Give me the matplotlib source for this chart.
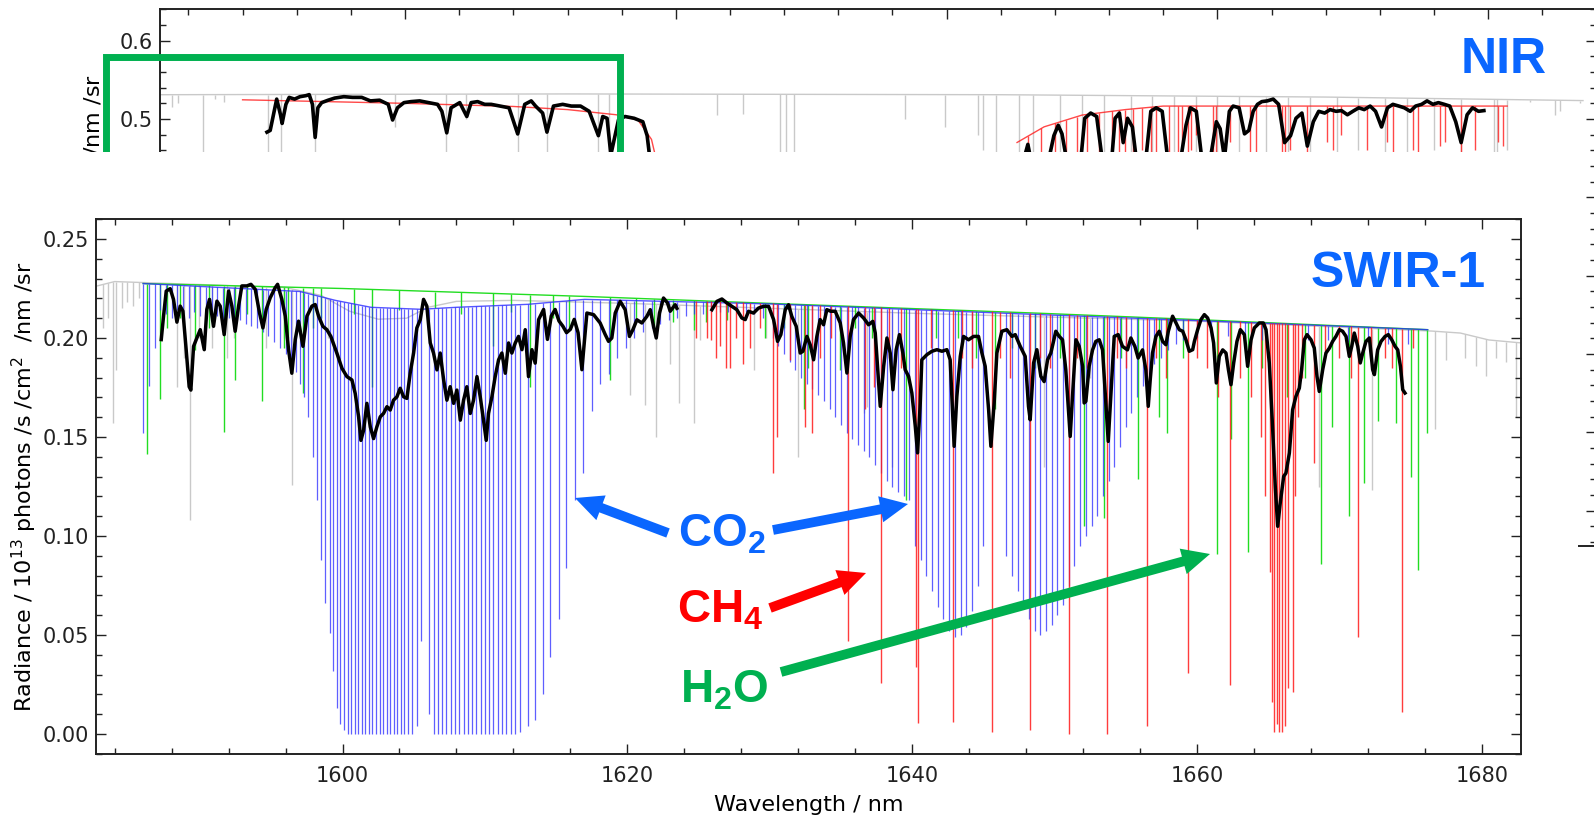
import numpy as np
import matplotlib
matplotlib.use("Agg")
import matplotlib.pyplot as plt
from matplotlib.patches import Rectangle, FancyArrowPatch, ArrowStyle
from matplotlib.lines import Line2D
from matplotlib.ticker import MultipleLocator, FormatStrFormatter

plt.rcParams['font.family'] = ['DejaVu Sans']
plt.rcParams['mathtext.fontset'] = 'custom'
plt.rcParams['mathtext.rm'] = 'DejaVu Sans'
plt.rcParams['mathtext.it'] = 'DejaVu Sans:italic'
plt.rcParams['mathtext.bf'] = 'Liberation Sans:bold'

W, H = 1594, 818

# ---------------- SWIR-1 panel data (wavelength nm, radiance) ----------------
# continuum levels the absorption lines hang from
CONT_X = [1586.0, 1600.0, 1617.0, 1630.0, 1649.0, 1660.0, 1676.2]
CONT_Y = [0.2275, 0.2250, 0.2210, 0.2175, 0.2125, 0.2093, 0.2042]
CO2_CONT_X = [1586.0, 1597.0, 1599.5, 1602.0, 1605.5, 1608.0, 1613.0, 1617.0, 1630.0, 1649.0, 1660.0, 1676.2]
CO2_CONT_Y = [0.2275, 0.2235, 0.2190, 0.2155, 0.2145, 0.2155, 0.2170, 0.2195, 0.2172, 0.2118, 0.2088, 0.2042]
GRAY_CONT_X = [1582.6, 1584.0, 1586.0, 1596.0, 1598.5, 1600.5, 1602.5, 1604.5, 1606.0, 1608.0,
               1612.0, 1620.0, 1640.0, 1660.0, 1676.5, 1678.5, 1680.5, 1682.8]
GRAY_CONT_Y = [0.2260, 0.2285, 0.2280, 0.2255, 0.2215, 0.2135, 0.2095, 0.2100, 0.2155, 0.2185,
               0.2190, 0.2175, 0.2125, 0.2085, 0.2035, 0.2025, 0.1990, 0.1975]

# CO2 lines: (centre, minimum)
CO2_LINES = [
    (1586.0, 0.152), (1586.4, 0.176), (1586.8, 0.195), (1587.2, 0.214), (1587.6, 0.212), (1588.0, 0.210),
    (1588.4, 0.214), (1588.8, 0.212), (1589.2, 0.210), (1589.6, 0.213), (1590.0, 0.211), (1590.4, 0.212),
    (1590.8, 0.210), (1591.2, 0.211), (1591.6, 0.209), (1592.0, 0.210), (1592.4, 0.208), (1592.8, 0.209),
    (1593.2, 0.207), (1593.6, 0.206), (1594.0, 0.205), (1594.4, 0.203), (1594.8, 0.201), (1595.2, 0.198),
    (1595.6, 0.195), (1596.0, 0.192), (1596.35, 0.188), (1596.7, 0.183), (1597.0, 0.177), (1597.3, 0.170),
    (1597.6, 0.160), (1597.9, 0.140), (1598.2, 0.118), (1598.5, 0.088), (1598.8, 0.066), (1599.1, 0.051),
    (1599.35, 0.032), (1599.6, 0.013), (1599.85, 0.005), (1600.1, 0.002), (1600.35, 0.0), (1600.6, 0.0),
    (1600.85, 0.0), (1601.1, 0.0), (1601.35, 0.0), (1601.6, 0.0), (1601.85, 0.0), (1602.1, 0.0),
    (1602.35, 0.0), (1602.6, 0.0), (1602.85, 0.0), (1603.1, 0.0), (1603.35, 0.0), (1603.6, 0.0),
    (1603.85, 0.0), (1604.1, 0.0), (1604.35, 0.0), (1604.6, 0.0), (1604.9, 0.0), (1605.2, 0.004),
    (1605.5, 0.047), (1606.1, 0.010), (1606.4, 0.0), (1606.7, 0.0), (1607.0, 0.0), (1607.3, 0.0),
    (1607.6, 0.0), (1607.9, 0.0), (1608.2, 0.0), (1608.5, 0.0), (1608.8, 0.0), (1609.1, 0.0),
    (1609.4, 0.0), (1609.7, 0.0), (1610.0, 0.0), (1610.3, 0.0), (1610.6, 0.0), (1610.9, 0.0),
    (1611.2, 0.0), (1611.5, 0.0), (1611.8, 0.0), (1612.1, 0.0), (1612.45, 0.001), (1613.0, 0.004),
    (1613.55, 0.007), (1614.1, 0.020), (1614.6, 0.039), (1615.2, 0.058), (1615.7, 0.084), (1616.3, 0.118),
    (1616.9, 0.132), (1617.5, 0.163), (1618.1, 0.177), (1618.7, 0.182), (1619.3, 0.190), (1619.9, 0.195),
    (1620.5, 0.200), (1621.1, 0.203), (1621.7, 0.205), (1622.3, 0.207), (1622.9, 0.209), (1623.5, 0.210),
    (1624.1, 0.211), (1624.7, 0.212), (1625.3, 0.212), (1625.9, 0.213), (1626.5, 0.213), (1627.1, 0.213),
    (1627.7, 0.213), (1628.3, 0.213), (1628.9, 0.212), (1629.5, 0.210),
    (1630.2, 0.200), (1630.6, 0.196), (1631.0, 0.192), (1631.4, 0.188), (1631.8, 0.184), (1632.2, 0.180),
    (1632.6, 0.177), (1633.0, 0.174), (1633.4, 0.171), (1633.8, 0.168), (1634.2, 0.164), (1634.6, 0.160),
    (1635.0, 0.156), (1635.4, 0.152), (1635.8, 0.149), (1636.2, 0.146), (1636.6, 0.143), (1637.0, 0.140),
    (1637.4, 0.136), (1637.8, 0.132), (1638.2, 0.128), (1638.6, 0.125), (1639.0, 0.122), (1639.4, 0.120),
    (1639.8, 0.118), (1640.2, 0.095), (1640.6, 0.088), (1641.0, 0.080), (1641.4, 0.072), (1641.8, 0.064),
    (1642.2, 0.058), (1642.6, 0.052), (1643.0, 0.049), (1643.4, 0.050), (1643.8, 0.054), (1644.2, 0.062),
    (1644.6, 0.075), (1645.0, 0.095), (1646.6, 0.090), (1647.0, 0.080), (1647.4, 0.072), (1647.8, 0.065),
    (1648.2, 0.058), (1648.6, 0.052), (1649.0, 0.050), (1649.4, 0.052), (1649.8, 0.055), (1650.2, 0.060),
    (1650.6, 0.065), (1651.0, 0.075), (1651.4, 0.085), (1651.8, 0.095), (1652.2, 0.100), (1652.6, 0.105),
    (1653.0, 0.110), (1653.4, 0.120), (1653.8, 0.128), (1654.2, 0.135), (1654.6, 0.145), (1655.0, 0.155),
    (1655.4, 0.162), (1655.8, 0.170), (1656.2, 0.176), (1656.6, 0.182), (1657.0, 0.187), (1657.5, 0.190),
    (1658.0, 0.194), (1658.5, 0.197), (1659.0, 0.199), (1660.0, 0.200), (1661.0, 0.201), (1662.2, 0.201),
    (1663.4, 0.200), (1664.6, 0.199), (1667.8, 0.199), (1669.2, 0.199), (1670.6, 0.198), (1672.0, 0.198),
    (1673.4, 0.197), (1674.8, 0.197),
]

CH4_LINES = [
    (1624.8, 0.200), (1625.6, 0.200), (1625.9, 0.199), (1626.2, 0.190), (1626.5, 0.196), (1626.9, 0.185),
    (1627.2, 0.185), (1627.6, 0.200), (1628.1, 0.187), (1628.6, 0.195), (1629.3, 0.205), (1630.2, 0.132),
    (1630.5, 0.150), (1631.4, 0.189), (1632.5, 0.155), (1633.0, 0.152), (1633.55, 0.190), (1634.3, 0.200),
    (1635.5, 0.047), (1636.7, 0.164), (1637.3, 0.175), (1637.8, 0.026), (1638.4, 0.190), (1639.2, 0.185),
    (1640.3, 0.034), (1640.4, 0.0055), (1641.3, 0.195), (1642.9, 0.006), (1643.5, 0.190), (1644.2, 0.185),
    (1645.6, 0.001), (1646.2, 0.190), (1646.9, 0.180), (1648.3, 0.002), (1649.0, 0.190), (1649.7, 0.185),
    (1651.0, 0.0), (1651.6, 0.190), (1652.3, 0.185), (1653.7, 0.0), (1654.4, 0.190), (1655.0, 0.185),
    (1656.5, 0.004), (1657.1, 0.190), (1657.8, 0.180), (1659.4, 0.031), (1660.0, 0.190), (1660.7, 0.185),
    (1661.5, 0.170), (1662.3, 0.025), (1663.0, 0.180), (1663.8, 0.170), (1664.5, 0.150), (1664.8, 0.120),
    (1665.1, 0.082), (1665.28, 0.016), (1665.43, 0.001), (1665.6, 0.005), (1665.78, 0.001), (1665.96, 0.001),
    (1666.17, 0.004), (1666.42, 0.023), (1666.77, 0.021), (1666.9, 0.120), (1667.1, 0.160), (1667.4, 0.180),
    (1668.2, 0.137), (1669.0, 0.190), (1670.0, 0.190), (1670.8, 0.180), (1671.3, 0.049), (1672.2, 0.190),
    (1673.2, 0.190), (1673.7, 0.185), (1674.4, 0.011), (1675.2, 0.195),
]

H2O_LINES = [
    (1586.26, 0.1415), (1587.2, 0.169), (1587.7, 0.205), (1588.6, 0.210), (1589.66, 0.194), (1590.6, 0.205),
    (1591.65, 0.1525), (1592.47, 0.1788), (1593.3, 0.212), (1594.34, 0.168), (1595.9, 0.195), (1596.2, 0.200),
    (1597.2, 0.172), (1597.9, 0.205), (1598.5, 0.210), (1600.8, 0.212), (1602.1, 0.175), (1604.0, 0.214),
    (1606.5, 0.215), (1608.3, 0.212), (1610.6, 0.196), (1611.8, 0.213), (1613.2, 0.175), (1614.8, 0.210),
    (1615.9, 0.205), (1618.8, 0.179), (1620.6, 0.210), (1621.9, 0.205), (1623.2, 0.208), (1624.65, 0.204),
    (1625.5, 0.208), (1627.0, 0.209), (1629.7, 0.200), (1631.0, 0.205), (1632.4, 0.164), (1632.7, 0.185),
    (1634.95, 0.184), (1636.0, 0.205), (1637.2, 0.200), (1639.55, 0.118), (1641.7, 0.200), (1643.2, 0.200),
    (1644.5, 0.190), (1645.8, 0.164), (1647.0, 0.195), (1648.6, 0.185), (1650.4, 0.190), (1652.06, 0.105),
    (1653.5, 0.109), (1654.7, 0.190), (1655.87, 0.129), (1657.35, 0.160), (1657.9, 0.152), (1659.0, 0.190),
    (1661.4, 0.091), (1662.4, 0.149), (1663.56, 0.092), (1664.6, 0.185), (1666.3, 0.170), (1667.6, 0.180),
    (1668.7, 0.086), (1669.5, 0.155), (1670.7, 0.110), (1671.75, 0.127), (1672.7, 0.158), (1673.98, 0.157),
    (1675.0, 0.130), (1675.55, 0.083), (1676.15, 0.152),
]

TOTAL_LINES = [
    (1583.2, 0.205), (1583.5, 0.210), (1583.9, 0.157), (1584.1, 0.184), (1584.5, 0.215), (1584.9, 0.218),
    (1585.3, 0.216), (1585.7, 0.220), (1588.4, 0.175), (1588.9, 0.190), (1589.3, 0.108), (1589.9, 0.200),
    (1590.8, 0.195), (1591.9, 0.190), (1592.4, 0.200), (1594.6, 0.195), (1595.9, 0.200), (1596.45, 0.126),
    (1599.0, 0.200), (1620.2, 0.171), (1621.25, 0.166), (1622.0, 0.150), (1623.0, 0.187), (1623.64, 0.167),
    (1624.65, 0.157), (1625.1, 0.199), (1628.86, 0.184), (1629.75, 0.200), (1632.0, 0.140), (1636.6, 0.162),
    (1636.8, 0.165), (1638.6, 0.135), (1649.27, 0.135), (1652.5, 0.180), (1668.6, 0.125), (1672.3, 0.123),
    (1676.7, 0.154), (1677.5, 0.189), (1678.8, 0.190), (1679.6, 0.186), (1680.3, 0.181), (1681.0, 0.190),
    (1681.7, 0.188), (1682.4, 0.160),
]

# convolved (instrument) radiance, black; two pieces
CONV_A = [
    (1587.27, 0.1992), (1587.43, 0.211), (1587.62, 0.2237), (1587.90, 0.2249), (1588.13, 0.2195), (1588.37, 0.208),
    (1588.60, 0.2161), (1588.79, 0.2136), (1589.02, 0.1941), (1589.23, 0.1754), (1589.35, 0.1737), (1589.54, 0.1958),
    (1589.77, 0.2000), (1590.01, 0.2042), (1590.29, 0.1941), (1590.47, 0.2144), (1590.66, 0.2195), (1590.94, 0.2059),
    (1591.18, 0.2186), (1591.41, 0.2161), (1591.69, 0.2017), (1592.00, 0.2237), (1592.23, 0.2161), (1592.46, 0.2034),
    (1592.70, 0.2161), (1592.93, 0.2263), (1593.28, 0.2263), (1593.57, 0.2271), (1593.87, 0.2246), (1594.17, 0.2127),
    (1594.41, 0.2051), (1594.64, 0.2144), (1594.92, 0.2203), (1595.27, 0.2254), (1595.44, 0.2271), (1595.74, 0.2195),
    (1595.98, 0.2110), (1596.21, 0.1941), (1596.44, 0.1822), (1596.68, 0.1992), (1596.91, 0.2085), (1597.22, 0.1958),
    (1597.50, 0.2110), (1597.85, 0.2161), (1598.08, 0.2169), (1598.32, 0.2110), (1598.62, 0.2059), (1598.90, 0.2042),
    (1599.18, 0.2008), (1599.60, 0.1924), (1599.96, 0.1847), (1600.31, 0.1805), (1600.66, 0.1788), (1600.89, 0.1720),
    (1601.13, 0.1602), (1601.29, 0.1483), (1601.48, 0.1534), (1601.71, 0.1670), (1601.95, 0.1551), (1602.18, 0.1492),
    (1602.41, 0.1551), (1602.65, 0.1602), (1602.88, 0.1619), (1603.12, 0.1653), (1603.35, 0.1636), (1603.58, 0.1686),
    (1603.82, 0.1703), (1604.05, 0.1746), (1604.29, 0.1703), (1604.52, 0.1695), (1604.75, 0.1822), (1604.99, 0.1924),
    (1605.22, 0.2051), (1605.46, 0.2093), (1605.69, 0.2195), (1605.92, 0.2161), (1606.16, 0.1975), (1606.39, 0.1924),
    (1606.63, 0.1839), (1606.86, 0.1924), (1607.10, 0.1788), (1607.33, 0.1686), (1607.56, 0.1754), (1607.80, 0.1670),
    (1608.03, 0.1737), (1608.27, 0.1585), (1608.50, 0.1686), (1608.73, 0.1754), (1608.97, 0.1619), (1609.20, 0.1686),
    (1609.44, 0.1805), (1609.67, 0.1703), (1609.90, 0.1585), (1610.09, 0.1483), (1610.25, 0.1619), (1610.49, 0.1703),
    (1610.72, 0.1805), (1610.96, 0.1890), (1611.19, 0.1924), (1611.43, 0.1822), (1611.66, 0.1975), (1611.89, 0.1924),
    (1612.13, 0.1975), (1612.36, 0.2008), (1612.60, 0.1941), (1612.83, 0.2042), (1613.06, 0.1805), (1613.30, 0.1941),
    (1613.53, 0.1873), (1613.77, 0.2093), (1614.12, 0.2144), (1614.39, 0.1993), (1614.66, 0.2111), (1614.93, 0.2144),
    (1615.20, 0.2086), (1615.47, 0.2060), (1615.73, 0.2027), (1616.00, 0.2044), (1616.27, 0.2094), (1616.54, 0.2027),
    (1616.81, 0.1840), (1617.16, 0.2126), (1617.63, 0.2118), (1618.09, 0.2076), (1618.45, 0.2017), (1618.68, 0.1983),
    (1618.91, 0.2000), (1619.15, 0.2126), (1619.50, 0.2185), (1619.85, 0.2143), (1620.15, 0.2008), (1620.39, 0.2042),
    (1620.67, 0.2092), (1621.02, 0.2076), (1621.37, 0.2109), (1621.61, 0.2143), (1621.84, 0.2059), (1622.03, 0.2000),
    (1622.26, 0.2126), (1622.54, 0.2202), (1622.82, 0.2177), (1623.01, 0.2135), (1623.36, 0.2168), (1623.48, 0.2150),
]
CONV_B = [
    (1625.94, 0.2143), (1626.29, 0.2185), (1626.64, 0.2197), (1626.99, 0.2177), (1627.34, 0.2160), (1627.69, 0.2143),
    (1628.04, 0.2101), (1628.28, 0.2093), (1628.51, 0.2135), (1628.86, 0.2126), (1629.21, 0.2151), (1629.56, 0.2160),
    (1629.92, 0.2160), (1630.27, 0.2093), (1630.55, 0.1983), (1630.78, 0.2017), (1631.09, 0.2143), (1631.32, 0.2168),
    (1631.55, 0.2109), (1631.86, 0.2059), (1632.14, 0.1924), (1632.33, 0.1933), (1632.61, 0.2008), (1632.84, 0.1966),
    (1633.08, 0.1890), (1633.31, 0.2008), (1633.54, 0.2093), (1633.78, 0.2067), (1634.01, 0.2143), (1634.29, 0.2135),
    (1634.60, 0.2135), (1634.95, 0.2076), (1635.18, 0.1975), (1635.42, 0.1823), (1635.65, 0.2008), (1635.88, 0.2093),
    (1636.24, 0.2126), (1636.59, 0.2101), (1636.94, 0.2067), (1637.24, 0.2084), (1637.41, 0.2025), (1637.76, 0.1655),
    (1638.00, 0.1857), (1638.23, 0.2000), (1638.46, 0.1924), (1638.65, 0.1739), (1638.88, 0.1941), (1639.11, 0.2017),
    (1639.35, 0.1924), (1639.51, 0.1840), (1639.75, 0.1806), (1639.98, 0.1722), (1640.22, 0.1554), (1640.38, 0.1420),
    (1640.57, 0.1672), (1640.68, 0.1890), (1641.04, 0.1916), (1641.39, 0.1933), (1641.74, 0.1941), (1642.09, 0.1933),
    (1642.44, 0.1941), (1642.67, 0.1890), (1642.86, 0.1587), (1642.95, 0.1453), (1643.14, 0.1705), (1643.38, 0.1907),
    (1643.61, 0.2008), (1643.96, 0.1991), (1644.31, 0.2008), (1644.66, 0.2008), (1644.90, 0.1924), (1645.13, 0.1857),
    (1645.37, 0.1638), (1645.53, 0.1453), (1645.76, 0.1672), (1645.95, 0.1924), (1646.30, 0.2034), (1646.65, 0.2042),
    (1647.01, 0.2008), (1647.24, 0.2017), (1647.59, 0.1958), (1647.94, 0.1907), (1648.17, 0.1655), (1648.29, 0.1587),
    (1648.53, 0.1874), (1648.76, 0.1941), (1649.04, 0.1806), (1649.27, 0.1780), (1649.51, 0.1890), (1649.74, 0.1924),
    (1650.09, 0.2034), (1650.33, 0.2008), (1650.56, 0.1991), (1650.79, 0.1840), (1650.98, 0.1638), (1651.10, 0.1503),
    (1651.26, 0.1705), (1651.50, 0.1991), (1651.73, 0.1958), (1651.97, 0.1857), (1652.08, 0.1672), (1652.20, 0.1680),
    (1652.43, 0.1857), (1652.67, 0.1940), (1652.90, 0.1983), (1653.14, 0.1991), (1653.37, 0.1940), (1653.60, 0.1672),
    (1653.77, 0.1478), (1653.95, 0.1705), (1654.19, 0.2008), (1654.47, 0.2017), (1654.77, 0.1958), (1655.12, 0.1940),
    (1655.36, 0.2000), (1655.64, 0.1958), (1655.87, 0.1899), (1656.18, 0.1940), (1656.41, 0.1840), (1656.58, 0.1655),
    (1656.72, 0.1790), (1656.88, 0.1924), (1657.12, 0.2008), (1657.35, 0.2034), (1657.59, 0.1983), (1657.82, 0.1966),
    (1657.99, 0.2034), (1658.29, 0.2110), (1658.53, 0.2076), (1658.76, 0.2042), (1659.00, 0.2034), (1659.23, 0.1991),
    (1659.46, 0.1933), (1659.70, 0.1941), (1659.82, 0.1983), (1660.05, 0.2042), (1660.28, 0.2093), (1660.52, 0.2118),
    (1660.75, 0.2101), (1660.99, 0.2051), (1661.17, 0.1975), (1661.36, 0.1773), (1661.57, 0.1907), (1661.81, 0.1940),
    (1662.04, 0.1924), (1662.21, 0.1840), (1662.39, 0.1764), (1662.58, 0.1874), (1662.81, 0.1983), (1663.05, 0.2042),
    (1663.33, 0.2017), (1663.56, 0.1857), (1663.80, 0.1991), (1664.03, 0.2051), (1664.38, 0.2076), (1664.66, 0.2076),
    (1664.85, 0.2042), (1665.08, 0.1874), (1665.32, 0.1537), (1665.50, 0.1250), (1665.67, 0.1049), (1665.85, 0.1167),
    (1666.09, 0.1301), (1666.25, 0.1318), (1666.49, 0.1419), (1666.72, 0.1638), (1666.95, 0.1705), (1667.19, 0.1747),
    (1667.35, 0.1840), (1667.54, 0.1991), (1667.73, 0.2017), (1668.01, 0.1991), (1668.24, 0.1949), (1668.43, 0.1806),
    (1668.59, 0.1730), (1668.83, 0.1840), (1669.06, 0.1924), (1669.30, 0.1949), (1669.53, 0.1983), (1669.76, 0.2008),
    (1670.00, 0.2042), (1670.23, 0.2034), (1670.47, 0.2008), (1670.70, 0.1907), (1670.87, 0.1958), (1671.05, 0.2025),
    (1671.29, 0.1958), (1671.47, 0.1874), (1671.64, 0.1924), (1671.87, 0.1983), (1672.11, 0.2000), (1672.34, 0.1840),
    (1672.46, 0.1815), (1672.69, 0.1940), (1672.93, 0.1983), (1673.21, 0.2008), (1673.44, 0.2017), (1673.68, 0.1991),
    (1673.91, 0.1958), (1674.10, 0.1940), (1674.29, 0.1857), (1674.45, 0.1739), (1674.61, 0.1722),
]

# ---------------- NIR panel data (only the top strip is visible) ----------------
NIR_TOTAL_CONT_X = [750.45, 758.0, 766.0, 772.0, 776.75]
NIR_TOTAL_CONT_Y = [0.531, 0.532, 0.531, 0.528, 0.5235]
NIR_TOTAL_LINES = [
    (750.70, 0.515), (750.81, 0.520), (751.27, 0.40), (751.50, 0.525), (751.65, 0.522), (752.47, 0.40),
    (752.71, 0.40), (753.34, 0.40), (754.82, 0.490), (755.76, 0.43), (756.13, 0.500), (757.09, 0.43),
    (757.62, 0.43), (758.56, 0.40), (758.77, 0.40), (760.76, 0.505), (761.24, 0.507), (761.93, 0.40),
    (762.04, 0.40), (762.18, 0.40), (764.23, 0.500), (764.97, 0.490), (765.58, 0.480), (765.67, 0.460),
    (765.91, 0.40), (766.34, 0.40), (766.60, 0.40), (767.10, 0.40), (767.50, 0.40), (767.90, 0.40),
    (768.40, 0.40), (768.80, 0.40), (769.20, 0.40), (769.60, 0.40), (770.00, 0.40), (770.40, 0.45),
    (770.90, 0.40), (771.30, 0.40), (771.70, 0.40), (772.20, 0.45), (772.60, 0.46), (773.10, 0.40),
    (773.50, 0.45), (774.00, 0.46), (774.50, 0.40), (775.11, 0.40), (775.17, 0.40), (775.35, 0.46),
    (775.78, 0.522), (776.24, 0.505), (776.33, 0.510), (776.70, 0.520),
]
NIR_O2_HEAD_X = [752.0, 755.0, 757.0, 758.0, 758.9, 759.3, 759.55, 759.7, 759.8]
NIR_O2_HEAD_Y = [0.5245, 0.520, 0.516, 0.512, 0.5054, 0.4987, 0.474, 0.43, 0.30]
NIR_O2_CONT_X = [766.3, 766.8, 767.5, 768.3, 769.0, 775.35]
NIR_O2_CONT_Y = [0.470, 0.490, 0.505, 0.512, 0.5165, 0.5165]
NIR_O2_LINES = [
    (766.50, 0.40), (766.75, 0.40), (767.00, 0.40), (767.20, 0.43), (767.40, 0.40), (767.60, 0.45),
    (767.82, 0.40), (768.05, 0.44), (768.19, 0.40), (768.29, 0.42), (768.45, 0.40), (768.60, 0.46),
    (768.77, 0.40), (768.87, 0.42), (769.10, 0.45), (769.27, 0.40), (769.35, 0.40), (769.45, 0.44),
    (769.52, 0.46), (769.61, 0.48), (769.92, 0.40), (769.98, 0.40), (770.24, 0.47), (770.61, 0.40),
    (770.71, 0.43), (771.19, 0.40), (771.24, 0.41), (771.34, 0.46), (771.66, 0.40), (772.03, 0.47),
    (772.13, 0.46), (772.29, 0.48), (772.77, 0.46), (773.13, 0.47), (773.24, 0.45), (773.61, 0.46),
    (773.71, 0.455), (774.11, 0.465), (774.21, 0.47), (774.50, 0.40), (774.76, 0.46), (775.18, 0.47),
    (775.28, 0.465),
]
NIR_CONV = [
    (752.45, 0.4832), (752.51, 0.4854), (752.57, 0.5054), (752.63, 0.5254), (752.70, 0.5054), (752.73, 0.4943),
    (752.80, 0.5187), (752.86, 0.5276), (752.96, 0.5254), (753.06, 0.5285), (753.17, 0.5298), (753.23, 0.5311),
    (753.29, 0.5187), (753.34, 0.4765), (753.39, 0.5143), (753.46, 0.5209), (753.58, 0.5240), (753.70, 0.5267),
    (753.87, 0.5285), (754.03, 0.5276), (754.20, 0.5276), (754.36, 0.5231), (754.53, 0.5240), (754.69, 0.5187),
    (754.77, 0.4987), (754.86, 0.5143), (754.98, 0.5209), (755.11, 0.5222), (755.27, 0.5231), (755.44, 0.5209),
    (755.60, 0.5187), (755.68, 0.5098), (755.77, 0.4823), (755.85, 0.5143), (756.01, 0.5209), (756.14, 0.5032),
    (756.22, 0.5209), (756.34, 0.5222), (756.47, 0.5187), (756.59, 0.5187), (756.76, 0.5165), (756.92, 0.5143),
    (757.08, 0.4809), (757.21, 0.5187), (757.33, 0.5231), (757.41, 0.5165), (757.54, 0.5076), (757.62, 0.4832),
    (757.74, 0.5165), (757.91, 0.5187), (758.07, 0.5165), (758.24, 0.5165), (758.40, 0.5098), (758.57, 0.4787),
    (758.65, 0.5032), (758.73, 0.5009), (758.80, 0.4543), (758.94, 0.4987), (759.06, 0.5032), (759.23, 0.5009),
    (759.39, 0.4965), (759.47, 0.4787), (759.52, 0.4498), (759.60, 0.30), (763.00, 0.30), (766.30, 0.40),
    (766.43, 0.4498), (766.50, 0.4676), (766.55, 0.4498), (766.72, 0.40), (766.89, 0.4498), (766.98, 0.4787),
    (767.06, 0.4920), (767.13, 0.4810), (767.21, 0.4498), (767.34, 0.40), (767.48, 0.4498), (767.55, 0.5009),
    (767.66, 0.5076), (767.77, 0.5032), (767.87, 0.4498), (767.95, 0.40), (768.05, 0.4498), (768.11, 0.5009),
    (768.19, 0.5076), (768.26, 0.4698), (768.34, 0.5009), (768.43, 0.4898), (768.50, 0.4498), (768.59, 0.40),
    (768.68, 0.4498), (768.77, 0.5098), (768.87, 0.5143), (768.98, 0.5098), (769.08, 0.4498), (769.19, 0.40),
    (769.29, 0.4498), (769.34, 0.4565), (769.42, 0.4920), (769.50, 0.5143), (769.61, 0.5098), (769.71, 0.4498),
    (769.80, 0.42), (769.87, 0.4498), (769.98, 0.4965), (770.05, 0.4876), (770.13, 0.4498), (770.22, 0.5098),
    (770.29, 0.5165), (770.40, 0.5143), (770.50, 0.4810), (770.58, 0.4854), (770.66, 0.5098), (770.74, 0.5187),
    (770.82, 0.5222), (770.92, 0.5231), (771.03, 0.5254), (771.13, 0.5187), (771.24, 0.4698), (771.35, 0.4787),
    (771.45, 0.5009), (771.56, 0.5076), (771.66, 0.4654), (771.77, 0.4965), (771.87, 0.5098), (771.98, 0.5076),
    (772.08, 0.5120), (772.19, 0.5098), (772.29, 0.5107), (772.40, 0.5054), (772.50, 0.5098), (772.61, 0.5143),
    (772.71, 0.5120), (772.82, 0.5165), (772.92, 0.5098), (773.03, 0.4898), (773.14, 0.5143), (773.24, 0.5187),
    (773.35, 0.5165), (773.45, 0.5143), (773.56, 0.5098), (773.66, 0.5165), (773.77, 0.5187), (773.87, 0.5231),
    (773.98, 0.5187), (774.08, 0.5209), (774.19, 0.5187), (774.29, 0.5165), (774.40, 0.4965), (774.50, 0.4698),
    (774.61, 0.5054), (774.71, 0.5143), (774.82, 0.5098), (774.92, 0.5107),
]

GRAY = "#c9c9c9"
BLUE = "#2a2aff"
RED = "#ff1a1a"
GREEN = "#22dd22"
LABEL_BLUE = "#0a66ff"
LABEL_GREEN = "#00b050"


def draw_lines(ax, lines, cont_x, cont_y, color, lw, z, alpha=1.0):
    pos = np.array([p for p, _ in lines])
    low = np.array([d for _, d in lines])
    top = np.interp(pos, cont_x, cont_y)
    ax.vlines(pos, low, top, colors=color, lw=lw, zorder=z, alpha=alpha)


def style_axes(ax):
    for s in ax.spines.values():
        s.set_linewidth(1.4)
        s.set_color("#222222")
    ax.tick_params(which="both", direction="in", top=True, right=True, width=1.0, colors="#222222")
    ax.tick_params(which="major", length=7.5, labelsize=15, pad=5)
    ax.tick_params(which="minor", length=4)


fig = plt.figure(figsize=(W / 100, H / 100), dpi=100)

# ---------- NIR panel (mostly hidden behind the SWIR panel) ----------
axn = fig.add_axes([159.5 / W, 1 - 546 / H, (1596 - 159.5) / W, (546 - 8.5) / H], zorder=0)
conv = np.array(NIR_CONV)
axn.plot(NIR_TOTAL_CONT_X, NIR_TOTAL_CONT_Y, color=GRAY, lw=1.0, zorder=1)
draw_lines(axn, NIR_TOTAL_LINES, NIR_TOTAL_CONT_X, NIR_TOTAL_CONT_Y, GRAY, 1.0, 1)
axn.plot(NIR_O2_HEAD_X, NIR_O2_HEAD_Y, color=RED, lw=1.0, zorder=2, alpha=0.8)
axn.plot(NIR_O2_CONT_X, NIR_O2_CONT_Y, color=RED, lw=1.0, zorder=2, alpha=0.8)
draw_lines(axn, NIR_O2_LINES, NIR_O2_CONT_X, NIR_O2_CONT_Y, RED, 1.0, 2, alpha=0.8)
axn.plot(conv[:, 0], conv[:, 1], color="black", lw=2.6, zorder=3)
axn.set_xlim(750.466, 776.99)
axn.set_ylim(-0.0453, 0.6411)
axn.xaxis.set_major_locator(MultipleLocator(5))
axn.xaxis.set_minor_locator(MultipleLocator(1))
axn.yaxis.set_major_locator(MultipleLocator(0.1))
axn.yaxis.set_minor_locator(MultipleLocator(0.02))
axn.yaxis.set_major_formatter(FormatStrFormatter("%.1f"))
style_axes(axn)
axn.tick_params(labelbottom=False)

# only the tail of the NIR y label shows above the pasted SWIR panel
fig.text(91.5 / W, 1 - 74 / H, r"/cm$^{2}$  /nm /sr", rotation=90, ha="center", va="top",
         fontsize=16, zorder=1)

# green bracket marking the retrieval window
fig.add_artist(Line2D([105.5 / W, 105.5 / W, 619.6 / W, 619.6 / W],
                      [1 - 175 / H, 1 - 57 / H, 1 - 57 / H, 1 - 175 / H],
                      color=LABEL_GREEN, lw=5, solid_joinstyle="miter", zorder=1))
fig.text(1547 / W, 1 - 73 / H, "NIR", ha="right", va="baseline", fontsize=36,
         family="Liberation Sans", weight="bold", color=LABEL_BLUE, zorder=1)

# white cover: the SWIR figure is pasted over the NIR one
fig.add_artist(Rectangle((0, 0), 1578 / W, 1 - 152 / H, transform=fig.transFigure,
                         facecolor="white", edgecolor="none", zorder=2))

# ---------- SWIR-1 panel ----------
ax = fig.add_axes([95.6 / W, 1 - 754 / H, (1521.2 - 95.6) / W, (754 - 219) / H], zorder=3)
ax.plot(GRAY_CONT_X, GRAY_CONT_Y, color=GRAY, lw=1.0, zorder=1)
draw_lines(ax, TOTAL_LINES, GRAY_CONT_X, GRAY_CONT_Y, GRAY, 1.0, 1)
ax.plot(CONT_X, CONT_Y, color=GREEN, lw=1.0, zorder=2)
draw_lines(ax, H2O_LINES, CONT_X, CONT_Y, GREEN, 1.0, 2)
ax.plot(CO2_CONT_X, CO2_CONT_Y, color=BLUE, lw=1.0, zorder=3, alpha=0.8)
draw_lines(ax, CO2_LINES, CO2_CONT_X, CO2_CONT_Y, BLUE, 0.9, 3, alpha=0.75)
draw_lines(ax, CH4_LINES, CONT_X, CONT_Y, RED, 1.0, 4, alpha=0.85)
ca = np.array(CONV_A)
cb = np.array(CONV_B)
ax.plot(ca[:, 0], ca[:, 1], color="black", lw=2.5, zorder=5)
ax.plot(cb[:, 0], cb[:, 1], color="black", lw=2.5, zorder=5)

ax.set_xlim(1582.66, 1682.77)
ax.set_ylim(-0.0101, 0.2601)
ax.xaxis.set_major_locator(MultipleLocator(20))
ax.xaxis.set_minor_locator(MultipleLocator(4))
ax.yaxis.set_major_locator(MultipleLocator(0.05))
ax.yaxis.set_minor_locator(MultipleLocator(0.01))
ax.yaxis.set_major_formatter(FormatStrFormatter("%.2f"))
style_axes(ax)
ax.tick_params(axis="x", which="major", pad=9)
ax.set_xlabel("Wavelength / nm", fontsize=16, labelpad=6)
ax.set_ylabel(r"Radiance / 10$^{13}$ photons /s /cm$^{2}$  /nm /sr", fontsize=16)
ax.yaxis.set_label_coords(-0.040, 0.5)

fig.text(1486 / W, 1 - 287 / H, "SWIR-1", ha="right", va="baseline", fontsize=36,
         family="Liberation Sans", weight="bold", color=LABEL_BLUE, zorder=6)

# gas labels and arrows
fig.text(722 / W, 1 - 546 / H, r"$\mathbf{CO_2}$", ha="center", va="baseline", fontsize=33,
         color=LABEL_BLUE, zorder=6)
fig.text(720 / W, 1 - 623 / H, r"$\mathbf{CH_4}$", ha="center", va="baseline", fontsize=33,
         color="#ff0000", zorder=6)
fig.text(724 / W, 1 - 703 / H, r"$\mathbf{H_2O}$", ha="center", va="baseline", fontsize=33,
         color=LABEL_GREEN, zorder=6)

arrow_style = ArrowStyle.Simple(head_length=20, head_width=19, tail_width=7)
arrows = [((668, 533), (575, 498), LABEL_BLUE),
          ((773, 530), (908, 504), LABEL_BLUE),
          ((770, 608), (866, 573), "#ff0000"),
          ((781, 672), (1210, 554), LABEL_GREEN)]
for (x0, y0), (x1, y1), col in arrows:
    fig.add_artist(FancyArrowPatch((x0 / W, 1 - y0 / H), (x1 / W, 1 - y1 / H),
                                   transform=fig.transFigure, arrowstyle=arrow_style,
                                   mutation_scale=1, color=col, lw=0,
                                   shrinkA=0, shrinkB=0, zorder=6))

fig.savefig("out.png", dpi=100)
